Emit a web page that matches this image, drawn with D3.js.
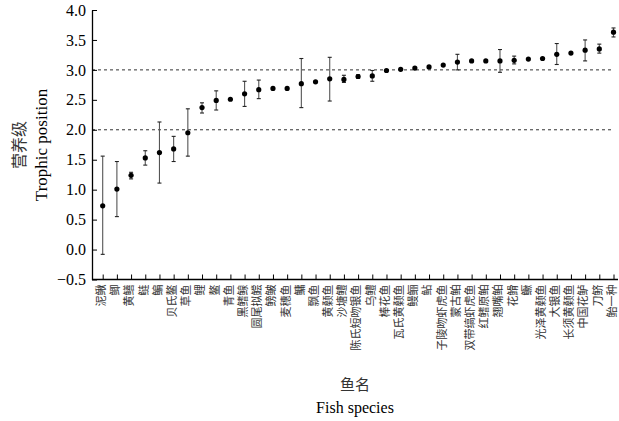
<!DOCTYPE html>
<html><head><meta charset="utf-8">
<script src="https://cdnjs.cloudflare.com/ajax/libs/d3/7.8.5/d3.min.js"></script>
<style>body{margin:0;background:#fff}svg{display:block}</style>
</head><body>
<script>
const species = ["泥鳅","鲫","黄鳝","鲢","鳊","贝氏鳌","草鱼","鲤","鳌","青鱼","黑鳍鳈","圆尾拟鲿","鳑鲏","麦穗鱼","鳙","飘鱼","黄颡鱼","沙塘鳢","陈氏短吻银鱼","乌鳢","棒花鱼","瓦氏黄颡鱼","鳗鲡","鲇","子陵吻虾虎鱼","蒙古鲌","双带缟虾虎鱼","红鳍原鲌","翘嘴鲌","花䱻","鳜","光泽黄颡鱼","大银鱼","长须黄颡鱼","中国花鲈","刀鲚","鲐一种"];
const tp     = [0.73,1.01,1.24,1.53,1.62,1.68,1.95,2.37,2.49,2.51,2.60,2.67,2.69,2.69,2.77,2.80,2.85,2.84,2.89,2.90,2.99,3.01,3.03,3.05,3.08,3.13,3.15,3.15,3.15,3.16,3.18,3.19,3.26,3.28,3.33,3.35,3.63];
const errUp  = [1.56,1.47,1.29,1.65,2.13,1.89,2.35,2.45,2.65,null,2.81,2.83,null,null,3.19,null,3.21,2.91,2.92,2.99,null,null,null,null,null,3.26,null,null,3.34,3.23,null,null,3.44,null,3.50,3.43,3.70];
const errLo  = [-0.08,0.55,1.18,1.41,1.11,1.47,1.56,2.28,2.33,null,2.39,2.52,null,null,2.37,null,2.48,2.79,2.86,2.81,null,null,null,null,null,3.00,null,null,2.96,3.10,null,null,3.09,null,3.15,3.28,3.55];
const yTicks = [-0.5,0,0.5,1,1.5,2,2.5,3,3.5,4];
const refLines = [2,3];

const W=619,H=421;
const svg=d3.select("body").append("svg").attr("width",W).attr("height",H);
const axL=92, axB=279.5, axT=10, axR=618;
const x=d3.scalePoint().domain(species).range([102.7,613.5]);
const y=d3.scaleLinear().domain([-0.5,4]).range([axB,axT]);
const serif="'Liberation Serif','Times New Roman',serif";
const cjk="'Noto Sans CJK SC',sans-serif";

svg.selectAll("line.ref").data(refLines).enter().append("line")
  .attr("x1",axL).attr("x2",613.5).attr("y1",d=>y(d)).attr("y2",d=>y(d))
  .attr("stroke","#333").attr("stroke-width",1).attr("stroke-dasharray","3,3");

const ya=svg.append("g").attr("transform",`translate(${axL},0)`)
  .call(d3.axisLeft(y).tickValues(yTicks).tickFormat(d=>d3.format(".1f")(d).replace("-","−")).tickSizeInner(-5).tickSizeOuter(0).tickPadding(6));
ya.select(".domain").attr("stroke","#000").attr("stroke-width",1.3);
ya.selectAll(".tick line").attr("stroke","#000");
ya.selectAll("text").attr("font-family",serif).attr("font-size",16).attr("fill","#000");

const xa=svg.append("g").attr("transform",`translate(0,${axB})`)
  .call(d3.axisBottom(x).tickSizeInner(-5).tickSizeOuter(0).tickPadding(5));
xa.select(".domain").attr("d",`M${axL},0H${axR}`).attr("stroke","#000").attr("stroke-width",1.3);
xa.selectAll(".tick line").attr("stroke","#000");
xa.selectAll("text").attr("font-family",cjk).attr("font-size",11).attr("fill","#333")
  .attr("transform","rotate(-90)").attr("text-anchor","end").attr("dy","0.35em").attr("x",-5).attr("y",-2);

const eb=species.map((s,i)=>({s,up:errUp[i],lo:errLo[i]})).filter(d=>d.up!=null);
const g=svg.append("g").attr("stroke","#555").attr("stroke-width",1.1);
g.selectAll("line.v").data(eb).enter().append("line")
  .attr("x1",d=>x(d.s)).attr("x2",d=>x(d.s)).attr("y1",d=>y(d.up)).attr("y2",d=>y(d.lo));
g.selectAll("line.t").data(eb).enter().append("line")
  .attr("x1",d=>x(d.s)-2).attr("x2",d=>x(d.s)+2).attr("y1",d=>y(d.up)).attr("y2",d=>y(d.up)).attr("stroke","#222");
g.selectAll("line.b").data(eb).enter().append("line")
  .attr("x1",d=>x(d.s)-2).attr("x2",d=>x(d.s)+2).attr("y1",d=>y(d.lo)).attr("y2",d=>y(d.lo)).attr("stroke","#222");

svg.selectAll("circle").data(species).enter().append("circle")
  .attr("cx",d=>x(d)).attr("cy",(d,i)=>y(tp[i])).attr("r",2.6).attr("fill","#000");

svg.append("text").attr("x",355).attr("y",390).attr("text-anchor","middle")
  .attr("font-family",cjk).attr("font-size",15).attr("fill","#333").text("鱼名");
svg.append("text").attr("x",355).attr("y",413).attr("text-anchor","middle")
  .attr("font-family",serif).attr("font-size",16).attr("fill","#000").text("Fish species");
svg.append("text").attr("transform","translate(25,145) rotate(-90)").attr("text-anchor","middle")
  .attr("font-family",cjk).attr("font-size",16).attr("fill","#333").text("营养级");
svg.append("text").attr("transform","translate(47,145) rotate(-90)").attr("text-anchor","middle")
  .attr("font-family",serif).attr("font-size",17).attr("fill","#000").text("Trophic position");
</script>
</body></html>
